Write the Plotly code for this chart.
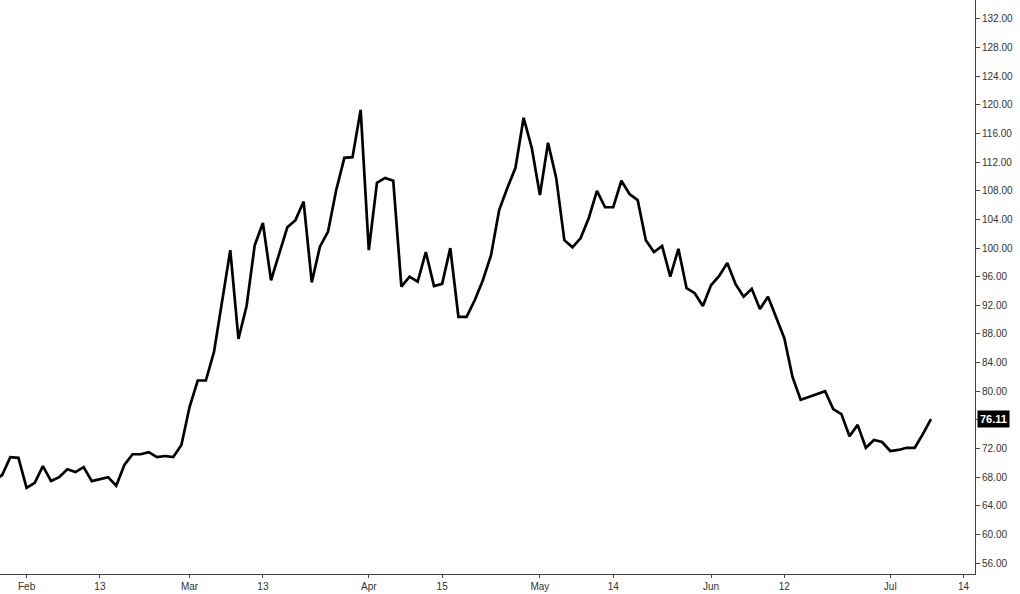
import plotly.graph_objects as go

# Daily closing values (one per trading day)
values = [
    67.5, 68.3, 70.8, 70.7, 66.5, 67.2, 69.55, 67.45, 68.0, 69.1,
    68.7, 69.4, 67.45, 67.7, 68.0, 66.8, 69.7, 71.2, 71.2, 71.5,
    70.8, 70.95, 70.8, 72.5, 77.8, 81.5, 81.5, 85.5, 92.7, 99.7,
    87.3, 91.9, 100.4, 103.5, 95.5, 99.3, 102.9, 103.9, 106.5, 95.2,
    100.2, 102.3, 108.1, 112.6, 112.7, 119.3, 99.7, 109.1, 109.8, 109.4,
    94.6, 96.0, 95.3, 99.45, 94.7, 95.0, 100.0, 90.4, 90.4, 92.7,
    95.5, 99.0, 105.3, 108.4, 111.2, 118.2, 114.0, 107.4, 114.7, 109.8,
    101.1, 100.1, 101.4, 104.2, 108.0, 105.7, 105.7, 109.4, 107.55, 106.7,
    101.1, 99.45, 100.3, 96.0, 99.9, 94.4, 93.7, 91.9, 94.8, 96.1,
    97.9, 95.0, 93.2, 94.3, 91.5, 93.2, 90.4, 87.4, 82.0, 78.8,
    79.2, 79.6, 80.0, 77.5, 76.8, 73.7, 75.3, 72.1, 73.2, 72.9,
    71.65, 71.8, 72.1, 72.1, 74.0, 76.11,
]
days = list(range(len(values)))

tick_days = [4, 13, 24, 33, 46, 55, 67, 76, 88, 97, 110, 119]
tick_labels = ["Feb", "13", "Mar", "13", "Apr", "15", "May", "14", "Jun", "12", "Jul", "14"]

last_value = values[-1]

fig = go.Figure()
fig.add_trace(go.Scatter(
    x=days, y=values, mode="lines",
    line=dict(color="#000000", width=2.7),
    hoverinfo="skip", showlegend=False,
))

font_family = "Liberation Sans, Arial, sans-serif"

fig.update_layout(
    width=1020, height=594,
    margin=dict(l=0, r=45, t=0, b=20, pad=0),
    paper_bgcolor="white", plot_bgcolor="white",
    showlegend=False,
    xaxis=dict(
        range=[0.736, 120.4],
        tickmode="array", tickvals=tick_days, ticktext=tick_labels,
        showgrid=False, zeroline=False, automargin=False,
        showline=True, linecolor="#444444", linewidth=1,
        ticks="outside", ticklen=3, tickcolor="#444444",
        tickfont=dict(family=font_family, size=10, color="#333333"),
    ),
    yaxis=dict(
        side="right",
        range=[54.47, 134.65],
        tick0=56, dtick=4, tickformat=".2f",
        showgrid=False, zeroline=False, automargin=False,
        showline=True, linecolor="#444444", linewidth=1,
        ticks="outside", ticklen=4, tickcolor="#444444",
        tickfont=dict(family=font_family, size=10, color="#333333"),
    ),
    annotations=[dict(
        xref="paper", yref="y", x=1, y=last_value,
        xanchor="left", yanchor="middle", xshift=2,
        text="<b>%.2f</b>" % last_value, showarrow=False,
        bgcolor="#000000", borderpad=2,
        font=dict(family=font_family, size=11, color="#ffffff"),
    )],
)

fig.write_html(
    "out.html",
    config={"displayModeBar": False},
    post_script="document.body.style.margin='0';document.body.style.overflow='hidden';",
)
